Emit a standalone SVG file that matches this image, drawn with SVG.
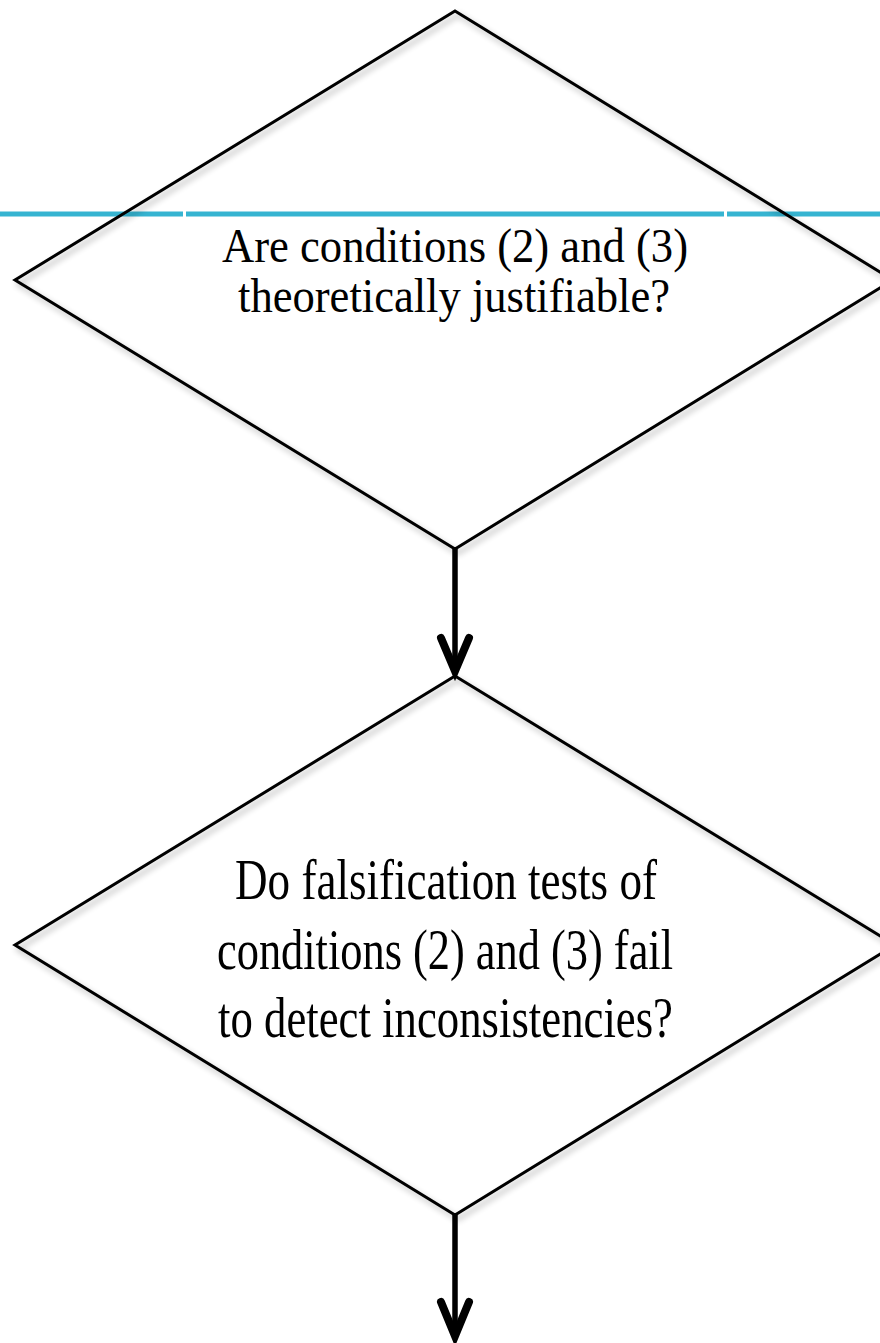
<svg xmlns="http://www.w3.org/2000/svg" width="880" height="1343" viewBox="0 0 880 1343">
  <style>
    .diamond { fill: none; stroke: #000; stroke-width: 3; stroke-linejoin: miter; }
    .label { font-family: "Liberation Serif", "Times New Roman", serif; fill: #000; text-anchor: start; }
    .rule { stroke: #36b4d1; stroke-width: 5; }
    .shaft { stroke: #000; stroke-width: 5.5; fill: none; }
    .head { stroke: #000; stroke-width: 8; fill: none; stroke-linecap: round; stroke-linejoin: miter; }
  </style>
  <defs>
    <filter id="shadow" x="-10%" y="-10%" width="120%" height="120%">
      <feGaussianBlur in="SourceAlpha" stdDeviation="3" result="b"/>
      <feOffset in="b" dx="3" dy="4" result="o"/>
      <feComponentTransfer in="o" result="s">
        <feFuncA type="linear" slope="0.3"/>
      </feComponentTransfer>
      <feMerge>
        <feMergeNode in="s"/>
        <feMergeNode in="SourceGraphic"/>
      </feMerge>
    </filter>
  </defs>
  <rect x="0" y="0" width="880" height="1343" fill="#fff"/>
  <g id="rule">
    <line class="rule" x1="0" y1="214" x2="183" y2="214"/>
    <line class="rule" x1="186" y1="214" x2="724" y2="214"/>
    <line class="rule" x1="727" y1="214" x2="880" y2="214"/>
  </g>
  <g id="node1">
    <polygon class="diamond" filter="url(#shadow)" points="455,11 893,280 455,549 15,280"/>
    <text class="label" font-size="48" x="222" y="262" textLength="466" lengthAdjust="spacingAndGlyphs">Are conditions (2) and (3)</text>
    <text class="label" font-size="48" x="238" y="312" textLength="432" lengthAdjust="spacingAndGlyphs">theoretically  justifiable?</text>
  </g>
  <g id="node2">
    <polygon class="diamond" filter="url(#shadow)" points="455,676 895,945 455,1215 15,945"/>
    <text class="label" font-size="58" x="235" y="899" textLength="422" lengthAdjust="spacingAndGlyphs">Do falsification  tests of</text>
    <text class="label" font-size="58" x="217" y="969" textLength="456" lengthAdjust="spacingAndGlyphs">conditions (2) and (3) fail</text>
    <text class="label" font-size="58" x="218" y="1037" textLength="455" lengthAdjust="spacingAndGlyphs">to detect inconsistencies?</text>
  </g>
  <g id="connectors">
    <g id="edge1">
      <line class="shaft" x1="455" y1="549" x2="455" y2="670"/>
      <path class="head" d="M441,638 L455,671 L469,638"/>
    </g>
    <g id="edge2">
      <line class="shaft" x1="455" y1="1215" x2="455" y2="1336"/>
      <path class="head" d="M441,1302 L455,1336 L469,1302"/>
    </g>
  </g>
</svg>
